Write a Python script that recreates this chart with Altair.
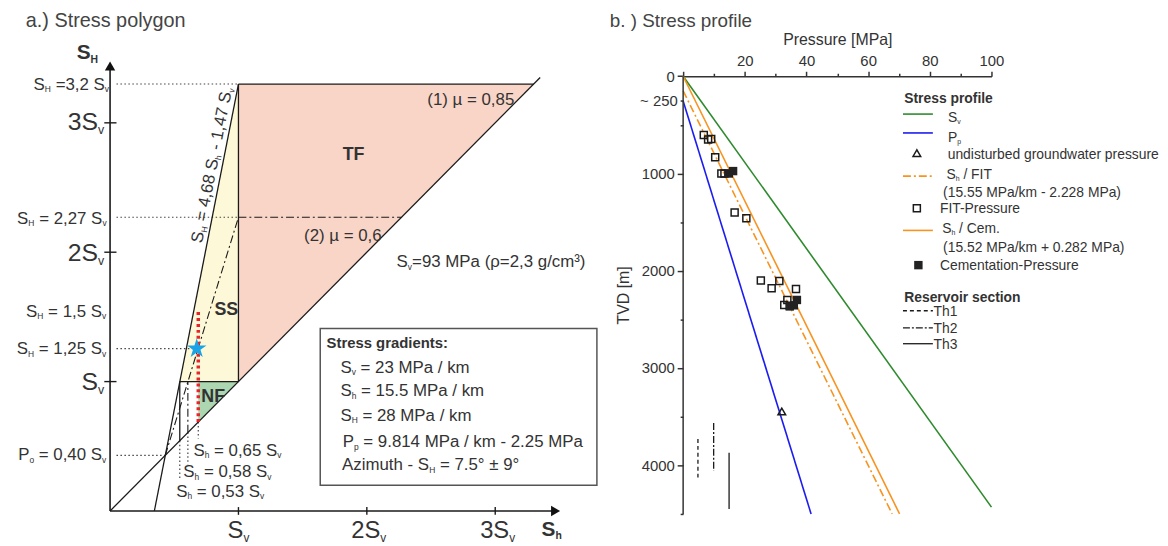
import math
import altair as alt
import pandas as pd

FONT = "Liberation Sans"
TXT = "#333333"

# ---------------- (a) stress polygon, in units of Sv ----------------
FRIC_TOP = 3.30          # SH limit for mu = 0.85 (labelled 3,2 Sv)
FRIC_MU06 = 2.27         # SH limit for mu = 0.6
PO = 0.43                # pore pressure point on SH = Sh
LEFT_X0 = 0.345          # SH = 4,68 Sh - 1,47 Sv meets the Sh axis
SH_CUTS = [0.543, 0.606, 0.687]   # Sh = 0,53 / 0,58 / 0,65 Sv
SH_CUT_ENDS = [0.25, 0.36, 0.56]  # lower ends of the dotted Sh markers
STAR = (0.675, 1.255)    # SH = 1,25 Sv
RED_TOP = 1.55           # SH = 1,5 Sv
DIAG_END = 3.35
AX_Y_END, AX_X_END = 3.44, 3.47
BOX = (1.637, 3.792, 0.199, 1.41)

# ---------------- (b) stress profile ----------------
sv_p, sv_d = [0, 100], [0, 4430]
pp_p, pp_d = [0, 41.5], [255, 4500]
fit_p, fit_d = [0, 67.8], [150, 4500]
cem_p, cem_d = [0, 70.2], [0, 4500]
fitpts_p = [6.7, 8.1, 9.1, 10.4, 12.4, 13.4, 16.7, 20.5, 25.2, 28.7, 31.2, 36.6, 33.8, 32.8, 34.6]
fitpts_d = [603, 650, 644, 834, 1000, 1000, 1402, 1460, 2100, 2180, 2105, 2187, 2300, 2353, 2363]
cempts_p = [14.8, 16.2, 36.9, 35.9, 34.6]
cempts_d = [1000, 975, 2300, 2355, 2365]
gw_p, gw_d = [32.0], [3447]
res_names = ["Th1", "Th2", "Th3"]
res_p = [4.8, 9.9, 14.9]
res_top = [3729, 3566, 3872]
res_bot = [4144, 4059, 4450]

C_GREEN, C_BLUE, C_ORANGE = "#2d8a2d", "#1c1cf0", "#f7931e"

# ---------------- scales ----------------
LW, LH = 600, 532
LX_DOM = [-0.795, -0.795 + LW / 129.5]
LY_TOP = 3.862
LY_DOM = [LY_TOP - LH / 130.5, LY_TOP]
RW, RH = 311, 532
RX_DOM = [0, 100]
RY_DOM = [-667.6, -667.6 + RH / 0.098109]
X_AXIS_OFFSET = -65.5
L_PXX, L_PXY = LW / (LX_DOM[1] - LX_DOM[0]), LH / (LY_DOM[1] - LY_DOM[0])
R_PXX, R_PXY = RW / (RX_DOM[1] - RX_DOM[0]), RH / (RY_DOM[1] - RY_DOM[0])

# ---------------- rich text (subscripts) ----------------
W_REG = {' ': 278, '!': 278, '(': 333, ')': 333, '+': 584, ',': 278, '-': 333, '.': 278, '/': 278,
         ':': 278, '=': 584, '[': 278, ']': 278, '~': 584, '°': 400, '±': 584, 'µ': 576, 'ρ': 570, '³': 333,
         'A': 667, 'B': 667, 'C': 722, 'D': 722, 'E': 667, 'F': 611, 'G': 778, 'H': 722, 'I': 278,
         'K': 667, 'L': 556, 'M': 833, 'N': 722, 'O': 778, 'P': 667, 'R': 722, 'S': 667, 'T': 611,
         'V': 667, 'a': 556, 'b': 556, 'c': 500, 'd': 556, 'e': 556, 'f': 278, 'g': 556, 'h': 556,
         'i': 222, 'k': 500, 'l': 222, 'm': 833, 'n': 556, 'o': 556, 'p': 556, 'r': 333, 's': 500,
         't': 278, 'u': 556, 'v': 500, 'w': 722, 'y': 500, 'z': 500}
W_BOLD = {' ': 278, ':': 333, 'S': 667, 'T': 611, 'F': 611, 'N': 722, 'R': 722, 'H': 722, 'h': 611,
          'a': 556, 'e': 556, 's': 556, 'r': 389, 'i': 278, 't': 333, 'd': 611, 'g': 611, 'n': 611,
          'o': 611, 'p': 611, 'f': 333, 'l': 278, 'c': 556, 'v': 556}
SUB, SUBDROP, CAP = 0.5, 0.15, 0.358


def parse(s):
    parts, i = [], 0
    while i < len(s):
        j = s.find('_{', i)
        if j < 0:
            parts.append((s[i:], False))
            break
        if j > i:
            parts.append((s[i:j], False))
        k = s.find('}', j)
        parts.append((s[j + 2:k], True))
        i = k + 1
    return parts


def twidth(t, size, bold):
    tbl = W_BOLD if bold else W_REG
    return sum(tbl.get(ch, W_REG.get(ch, 556)) for ch in t) * size / 1000.0


def rich(label, x, y, size, align, bold, angle, color, pxx, pxy, ydown):
    parts = parse(label)
    widths = [twidth(t, size * (SUB if sb else 1), bold) for t, sb in parts]
    total = sum(widths)
    off = {'left': 0, 'center': -total / 2, 'right': -total}[align]
    th = math.radians(angle)
    c, s = math.cos(th), math.sin(th)
    rows = []
    for (t, sb), w in zip(parts, widths):
        sz = size * (SUB if sb else 1)
        lead = len(t) - len(t.lstrip(' '))
        o = off + twidth(' ' * lead, sz, bold)
        txt = t.strip(' ')
        if txt:
            drop = CAP * size + (SUBDROP * size if sb else 0)
            sx, sy = o * c - drop * s, o * s + drop * c
            rows.append(dict(x=x + sx / pxx, y=y + (sy / pxy if ydown else -sy / pxy),
                             text=txt, size=sz, angle=angle, bold=bold, color=color))
        off += w
    return rows


def text_table(specs, pxx, pxy, ydown):
    rows = []
    for sp in specs:
        label, x, y, size, align = sp[:5]
        bold = sp[5] if len(sp) > 5 else False
        angle = sp[6] if len(sp) > 6 else 0
        color = sp[7] if len(sp) > 7 else TXT
        rows += rich(label, x, y, size, align, bold, angle, color, pxx, pxy, ydown)
    return pd.DataFrame(rows)


LEFT_TEXT = [
    ("a.) Stress polygon", -0.656, 3.798, 20, 'left', False, 0, '#444444'),
    ("S_{H}", -0.26, 3.548, 21, 'left', True),
    ("S_{H} =3,2 S_{v}", -0.008, 3.303, 17, 'right'),
    ("3S_{v}", -0.046, 3.01, 25, 'right'),
    ("S_{H} = 2,27 S_{v}", -0.027, 2.268, 17, 'right'),
    ("2S_{v}", -0.046, 2.0, 25, 'right'),
    ("S_{H} = 1,5 S_{v}", -0.03, 1.548, 17, 'right'),
    ("S_{H} = 1,25 S_{v}", -0.03, 1.257, 17, 'right'),
    ("S_{v}", -0.046, 1.0, 25, 'right'),
    ("P_{o} = 0,40 S_{v}", -0.03, 0.437, 17, 'right'),
    ("S_{v}", 1.0, -0.146, 24, 'center'),
    ("2S_{v}", 2.015, -0.146, 24, 'center'),
    ("3S_{v}", 3.019, -0.146, 24, 'center'),
    ("S_{h}", 3.44, -0.138, 21, 'center', True),
    ("TF", 1.897, 2.761, 18, 'center', True),
    ("SS", 0.906, 1.561, 18, 'center', True),
    ("NF", 0.803, 0.889, 18, 'center', True),
    ("(1) µ = 0,85", 2.471, 3.188, 17, 'left'),
    ("(2) µ = 0,6", 1.511, 2.135, 17, 'left'),
    ("S_{v}=93 MPa (ρ=2,3 g/cm³)", 2.232, 1.931, 17, 'left'),
    ("S_{H} = 4,68 S_{h} - 1,47 S_{v}", 0.788, 2.674, 17, 'center', False, 281),
    ("S_{h} = 0,65 S_{v}", 0.649, 0.475, 17, 'left'),
    ("S_{h} = 0,58 S_{v}", 0.571, 0.309, 17, 'left'),
    ("S_{h} = 0,53 S_{v}", 0.515, 0.156, 17, 'left'),
    ("Stress gradients:", 1.686, 1.297, 15, 'left', True),
    ("S_{v} = 23 MPa / km", 1.794, 1.114, 17, 'left'),
    ("S_{h} = 15.5 MPa / km", 1.794, 0.935, 17, 'left'),
    ("S_{H} = 28 MPa / km", 1.794, 0.743, 17, 'left'),
    ("P_{p} = 9.814 MPa / km - 2.25 MPa", 1.812, 0.539, 17, 'left'),
    ("Azimuth - S_{H} = 7.5° ± 9°", 1.807, 0.360, 17, 'left'),
]

RIGHT_TEXT = [
    ("b. ) Stress profile", -23.8, -571, 19, 'left', False, 0, '#444444'),
    ("Stress profile", 71.7, 226, 14, 'left', True),
    ("S_{v}", 85.9, 423, 14, 'left'),
    ("P_{p}", 85.9, 622, 14, 'left'),
    ("undisturbed groundwater pressure", 85.8, 795, 14, 'left'),
    ("S_{h} / FIT", 85.4, 1001, 14, 'left'),
    ("(15.55 MPa/km - 2.228 MPa)", 84.3, 1187, 14, 'left'),
    ("FIT-Pressure", 83.3, 1358, 14, 'left'),
    ("S_{h} / Cem.", 84.0, 1561, 14, 'left'),
    ("(15.52 MPa/km + 0.282 MPa)", 84.3, 1758, 14, 'left'),
    ("Cementation-Pressure", 83.3, 1942, 14, 'left'),
    ("Reservoir section", 71.7, 2268, 14, 'left', True),
    ("Th1", 81.2, 2411, 14, 'left'),
    ("Th2", 81.2, 2587, 14, 'left'),
    ("Th3", 81.2, 2750, 14, 'left'),
]

# legend swatches (right panel, data units)
LEG_X = (71.3, 81.0)
LEG_LINE_Y = {"Sv": 389, "Pp": 583, "FIT": 1027, "Cem": 1585, "Th1": 2411, "Th2": 2587, "Th3": 2750}
LEG_TRI = (75.8, 790)
LEG_OPEN = (75.8, 1358)
LEG_FILL = (76.3, 1942)


# ---------------- left panel ----------------
def LX(f):
    return alt.X(f, type='quantitative', scale=alt.Scale(domain=LX_DOM, nice=False, zero=False), axis=None)


def LY(f):
    return alt.Y(f, type='quantitative', scale=alt.Scale(domain=LY_DOM, nice=False, zero=False), axis=None)


def seg_df(segs):
    return pd.DataFrame(segs, columns=['x', 'y', 'x2', 'y2'])


def seg_layer(segs, enc_x, enc_y, **mk):
    return alt.Chart(seg_df(segs)).mark_rule(**mk).encode(
        x=enc_x('x'), y=enc_y('y'), x2=alt.X2('x2'), y2=alt.Y2('y2'))


def area_layer(xs, lo, hi, color):
    df = pd.DataFrame({'x': xs, 'lo': lo, 'hi': hi})
    return alt.Chart(df).mark_area(color=color, opacity=1, interpolate='linear').encode(
        x=LX('x'), y=LY('lo'), y2=alt.Y2('hi'))


a_tf = area_layer([1, FRIC_TOP], [1, FRIC_TOP], [FRIC_TOP, FRIC_TOP], '#f9d5c7')
a_ss = area_layer([SH_CUTS[0], 1], [1, 1], [1, FRIC_TOP], '#fdf9d8')
a_nf = area_layer([SH_CUTS[2], 1], [SH_CUTS[2], 1], [1, 1], '#acd7b0')

solid = [(0, 0, DIAG_END, DIAG_END), (LEFT_X0, 0, 1, FRIC_TOP), (1, FRIC_TOP, FRIC_TOP, FRIC_TOP),
         (1, 1, 1, FRIC_TOP), (SH_CUTS[0], 1, 1, 1), (SH_CUTS[0], SH_CUTS[0], SH_CUTS[0], 1)]
axes_l = [(0, 0, 0, AX_Y_END), (0, 0, AX_X_END, 0)]
ticks_l = [(-0.045, k, 0.05, k) for k in (1, 2, 3)] + [(k, -0.03, k, 0.03) for k in (1, 2, 3)]
dashdot = [(PO, PO, 1, FRIC_MU06), (SH_CUTS[1], SH_CUTS[1], SH_CUTS[1], 1), (1, FRIC_MU06, FRIC_MU06, FRIC_MU06)]
dotted = [(0.05, FRIC_TOP, 1, FRIC_TOP), (0.05, FRIC_MU06, 1, FRIC_MU06), (0.05, STAR[1], STAR[0], STAR[1]),
          (0.05, PO, PO, PO)] + [(c, c, c, e) for c, e in zip(SH_CUTS, SH_CUT_ENDS)]
red = [(SH_CUTS[2], SH_CUTS[2], SH_CUTS[2], RED_TOP)]

l_box = alt.Chart(pd.DataFrame([dict(x=BOX[0], x2=BOX[1], y=BOX[2], y2=BOX[3])])).mark_rect(
    fill='white', stroke='#555555', strokeWidth=1.5).encode(x=LX('x'), x2=alt.X2('x2'), y=LY('y'), y2=alt.Y2('y2'))

arrows_l = pd.DataFrame({'x': [0, AX_X_END], 'y': [AX_Y_END, 0], 'shape': ['triangle-up', 'triangle-right']})
l_arrows = alt.Chart(arrows_l).mark_point(filled=True, color='#111111', size=110, opacity=1).encode(
    x=LX('x'), y=LY('y'), shape=alt.Shape('shape:N', scale=None))

STAR_PATH = ("M0,-1L0.2245,-0.309L0.9511,-0.309L0.3633,0.118L0.5878,0.809L0,0.382L-0.5878,0.809"
             "L-0.3633,0.118L-0.9511,-0.309L-0.2245,-0.309Z")
l_star = alt.Chart(pd.DataFrame({'x': [STAR[0]], 'y': [STAR[1]]})).mark_point(
    shape=STAR_PATH, filled=True, color='#1aa3e6', size=430, opacity=1).encode(x=LX('x'), y=LY('y'))

lt = text_table(LEFT_TEXT, L_PXX, L_PXY, False)


def text_layers(df, enc_x, enc_y):
    out = []
    for b in (False, True):
        d = df[df.bold == b]
        if len(d):
            out.append(alt.Chart(d).mark_text(align='left', baseline='alphabetic', font=FONT,
                                              fontWeight='bold' if b else 'normal').encode(
                x=enc_x('x'), y=enc_y('y'), text='text:N',
                size=alt.Size('size:Q', scale=None), angle=alt.Angle('angle:Q', scale=None),
                color=alt.Color('color:N', scale=None)))
    return out


left = alt.layer(
    a_tf, a_ss, a_nf,
    seg_layer(dotted, LX, LY, color='#444444', strokeWidth=1.2, strokeDash=[1.5, 2.5]),
    seg_layer(solid, LX, LY, color='#1a1a1a', strokeWidth=1.3),
    seg_layer(dashdot, LX, LY, color='#1a1a1a', strokeWidth=1.1, strokeDash=[8, 3, 2, 3]),
    seg_layer(axes_l, LX, LY, color='#1a1a1a', strokeWidth=1.6),
    seg_layer(ticks_l, LX, LY, color='#1a1a1a', strokeWidth=1.4),
    seg_layer(red, LX, LY, color='#e8242a', strokeWidth=3.5, strokeDash=[3, 3]),
    l_box, l_arrows, l_star,
    *text_layers(lt, LX, LY),
).properties(width=LW, height=LH)

# ---------------- right panel ----------------
AX_X = alt.Axis(orient='top', values=list(range(0, 101, 10)),
                labelExpr="datum.value % 20 == 0 && datum.value > 0 ? datum.label : ''",
                title='Pressure [MPa]', titleFont=FONT, titleFontSize=16, titleFontWeight='normal',
                titleColor=TXT, titlePadding=6, labelFont=FONT, labelFontSize=15, labelColor=TXT,
                labelPadding=3, labelOverlap=False, labelFlush=False,
                tickSize={"condition": {"test": "datum.value % 20 == 0", "value": 5}, "value": 3},
                tickColor='#333333', tickWidth=1.5, domainColor='#333333', domainWidth=1.5,
                grid=False, offset=X_AXIS_OFFSET)
AX_Y = alt.Axis(orient='left', values=[0, 250, 500, 1000, 1500, 2000, 2500, 3000, 3500, 4000, 4500],
                format='d',
                labelExpr="datum.value == 250 ? '~ 250' : (datum.value % 1000 == 0 ? datum.label : '')",
                title='TVD [m]', titleFont=FONT, titleFontSize=16, titleFontWeight='normal', titleColor=TXT,
                titleAngle=270, titleX=-60, titleY=286, titleAlign='center', titleBaseline='middle',
                labelFont=FONT, labelFontSize=15, labelColor=TXT, labelPadding=3, labelOverlap=False,
                labelFlush=False,
                tickSize={"condition": {"test": "datum.value % 1000 == 0", "value": 6}, "value": 3},
                tickColor='#333333', tickWidth=1.5, domain=False, grid=False)


def RX(f):
    return alt.X(f, type='quantitative', scale=alt.Scale(domain=RX_DOM, nice=False, zero=False), axis=AX_X)


def RY(f):
    return alt.Y(f, type='quantitative', scale=alt.Scale(domain=RY_DOM, nice=False, zero=False, reverse=True),
                 axis=AX_Y)


def line_layer(ps, ds, color, dash=None):
    mk = dict(color=color, strokeWidth=1.6)
    if dash:
        mk['strokeDash'] = dash
    return alt.Chart(pd.DataFrame({'p': ps, 'd': ds})).mark_line(**mk).encode(x=RX('p'), y=RY('d'))


r_axisline = alt.Chart(pd.DataFrame({'p': [0], 'd': [0], 'd2': [4500]})).mark_rule(
    color='#333333', strokeWidth=1.5).encode(x=RX('p'), y=RY('d'), y2=alt.Y2('d2'))

r_open = alt.Chart(pd.DataFrame({'p': fitpts_p + [LEG_OPEN[0]], 'd': fitpts_d + [LEG_OPEN[1]]})).mark_point(
    shape='square', filled=False, color='#1a1a1a', strokeWidth=1.5, size=50, opacity=1).encode(
    x=RX('p'), y=RY('d'))
r_fill = alt.Chart(pd.DataFrame({'p': cempts_p + [LEG_FILL[0]], 'd': cempts_d + [LEG_FILL[1]]})).mark_point(
    shape='square', filled=True, color='#222222', size=72, opacity=1).encode(x=RX('p'), y=RY('d'))
r_tri = alt.Chart(pd.DataFrame({'p': gw_p + [LEG_TRI[0]], 'd': gw_d + [LEG_TRI[1]]})).mark_point(
    shape='triangle-up', filled=False, color='#1a1a1a', strokeWidth=1.5, size=60, opacity=1).encode(
    x=RX('p'), y=RY('d'))

RES_DASH = {"Th1": [4, 3], "Th2": [7, 2, 2, 2], "Th3": None}
res_layers = []
for name, p, t, b in zip(res_names, res_p, res_top, res_bot):
    mk = dict(color='#1a1a1a', strokeWidth=1.3)
    if RES_DASH[name]:
        mk['strokeDash'] = RES_DASH[name]
    df = pd.DataFrame({'p': [p, LEG_X[0]], 'p2': [p, LEG_X[1]],
                       'd': [t, LEG_LINE_Y[name]], 'd2': [b, LEG_LINE_Y[name]]})
    res_layers.append(alt.Chart(df).mark_rule(**mk).encode(
        x=RX('p'), x2=alt.X2('p2'), y=RY('d'), y2=alt.Y2('d2')))

leg_lines = []
for key, color, dash in [("Sv", C_GREEN, None), ("Pp", C_BLUE, None),
                         ("FIT", C_ORANGE, [8, 3, 2, 3]), ("Cem", C_ORANGE, None)]:
    mk = dict(color=color, strokeWidth=1.6)
    if dash:
        mk['strokeDash'] = dash
    df = pd.DataFrame({'p': [LEG_X[0]], 'p2': [LEG_X[1]], 'd': [LEG_LINE_Y[key]]})
    leg_lines.append(alt.Chart(df).mark_rule(**mk).encode(x=RX('p'), x2=alt.X2('p2'), y=RY('d')))

rt = text_table(RIGHT_TEXT, R_PXX, R_PXY, True)

right = alt.layer(
    line_layer(sv_p, sv_d, C_GREEN),
    line_layer(pp_p, pp_d, C_BLUE),
    line_layer(fit_p, fit_d, C_ORANGE, dash=[8, 3, 2, 3]),
    line_layer(cem_p, cem_d, C_ORANGE),
    r_axisline, *res_layers, *leg_lines, r_tri, r_open, r_fill,
    *text_layers(rt, RX, RY),
).properties(width=RW, height=RH)

chart = alt.hconcat(left, right, spacing=81, bounds='flush').properties(padding=0).configure(
    font=FONT).configure_view(stroke=None)

chart.save("out.html", embed_options={"renderer": "svg", "actions": False})
